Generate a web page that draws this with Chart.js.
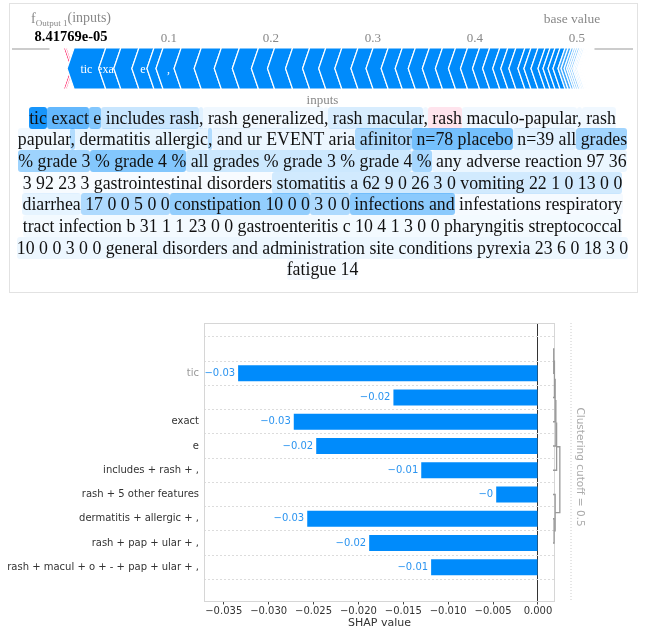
<!DOCTYPE html>
<html>
<head>
<meta charset="utf-8">
<script src="https://cdn.jsdelivr.net/npm/chart.js@4.4.1/dist/chart.umd.min.js"></script>
<style>
  body { margin: 0; background: #fff; width: 645px; height: 639px; overflow: hidden; position: relative; }
  #box { position: absolute; left: 9px; top: 3px; width: 629px; height: 290px; box-sizing: border-box; border: 1px solid #e2e2e2; }
  #force { position: absolute; left: 0; top: 0; }
  #inputs { position: absolute; left: 0; top: 91px; width: 645px; text-align: center; font: 13px "Liberation Serif", serif; color: #888; line-height: 18px; }
  #text { position: absolute; left: 0; top: 107.5px; width: 645px; font-family: "Liberation Serif", serif; font-size: 17.8px; color: #111; }
  #text .line { height: 21.7px; line-height: 21.7px; text-align: center; white-space: nowrap; }
  #text .tok { border-radius: 3px; padding: 1px 0; }
  #bars { position: absolute; left: 0; top: 300px; }
</style>
</head>
<body>
<div id="box"></div>
<canvas id="force" width="645" height="95"></canvas>
<div id="inputs">inputs</div>
<div id="text"></div>
<canvas id="bars" width="645" height="339"></canvas>
<script>
// ---- force plot values ----
const outputValue = 8.41769e-05;
const baseValue = 0.5;
const forceTicks = [0.1, 0.2, 0.3, 0.4, 0.5];
const forcePos = [0.0020, 0.0015];
const forceNeg = [
  0.0310, 0.0148, 0.0177, 0.0148, 0.0089, 0.0177, 0.0197, 0.0197, 0.0177, 0.0187,
  0.0158, 0.0177, 0.0167, 0.0158, 0.0158, 0.0158, 0.0148, 0.0148, 0.0138, 0.0128,
  0.0138, 0.0128, 0.0128, 0.0118, 0.0118, 0.0099, 0.0099, 0.0079, 0.0079, 0.0089,
  0.0059, 0.0069, 0.0069, 0.0049, 0.0049, 0.0049, 0.0049, 0.0030, 0.0030, 0.0025,
  0.0020, 0.0020, 0.0020, 0.0015, 0.0015, 0.0015, 0.0010, 0.0010, 0.0010, 0.0010
];
const forceNames = ["tic", "exact", "", "e", "", ","];

// ---- text highlight values ----
const textTokens = [
  ["tic", " exact", " e", " includes rash", ",", " rash generalized", ",", " rash macular", ",", " rash", " maculo-papular", ",", " rash"],
  ["papular", ",", " dermatitis allergic", ",", " and ur EVENT aria", " afinitor", " n=78 placebo", " n=39 all", " grades"],
  ["% grade 3", " % grade 4 %", " all grades % grade 3 % grade 4", " %", " any adverse reaction 97 36"],
  ["3 92 23 3 gastrointestinal disorders", " stomatitis a 62 9 0 26 3 0 vomiting 22 1 0 13 0 0"],
  ["diarrhea", " 17 0 0 5 0 0", " constipation 10 0 0", " 3 0 0", " infections and", " infestations respiratory"],
  ["tract infection b 31 1 1 23 0 0 gastroenteritis c 10 4 1 3 0 0 pharyngitis streptococcal"],
  ["10 0 0 3 0 0 general disorders and administration site conditions pyrexia 23 6 0 18 3 0"],
  ["fatigue 14"]
];
const textScores = [
  [-0.030, -0.020, -0.016, -0.007, -0.004, -0.002, -0.002, -0.005, -0.002, 0.0035, -0.002, -0.002, -0.002],
  [-0.002, -0.010, -0.003, -0.010, -0.0025, -0.011, -0.018, -0.004, -0.012],
  [-0.0125, -0.016, -0.0066, -0.0115, -0.0026],
  [-0.001, -0.006],
  [-0.0033, -0.0105, -0.014, -0.0105, -0.015, -0.0013],
  [-0.0016],
  [-0.0023],
  [-0.0013]
];
const textMax = 0.033;

// ---- bar chart values ----
const rowLabels = ["", "tic", "", "exact", "e", "includes + rash + ,", "rash + 5 other features",
  "dermatitis + allergic + ,", "rash + pap + ular + ,", "rash + macul + o + - + pap + ular + ,"];
const shapValues = [null, -0.0334, -0.0161, -0.0272, -0.0247, -0.0130, -0.00465, -0.0257, -0.0188, -0.0119];
const mutedRows = [1];
const xTicks = [-0.035, -0.030, -0.025, -0.020, -0.015, -0.010, -0.005, 0.000];
// merges: [left node, right node, distance]; new nodes get ids 10, 11, ...
const clusterMerges = [[0, 1, 0.02], [10, 2, 0.04], [11, 3, 0.06], [12, 4, 0.08], [13, 5, 0.10],
  [7, 8, 0.03], [6, 15, 0.06], [14, 16, 0.19]];
const clusterCutoff = 0.5;

// text plot
const textDiv = document.getElementById('text');
textTokens.forEach((line, li) => {
  const div = document.createElement('div');
  div.className = 'line';
  line.forEach((tok, ti) => {
    const s = textScores[li][ti];
    const a = Math.min(1, Math.abs(s) / textMax);
    const span = document.createElement('span');
    span.className = 'tok';
    span.textContent = tok;
    span.style.background = s < 0 ? `rgba(0,139,251,${a})` : `rgba(255,0,81,${a})`;
    div.appendChild(span);
  });
  textDiv.appendChild(div);
});

// 8.41769e-05 style, like python's %g
function sciText(v) {
  const [m, e] = v.toExponential(5).split('e');
  const n = Math.abs(parseInt(e, 10));
  return m + 'e' + (e[0] === '-' ? '-' : '+') + String(n).padStart(2, '0');
}

// force plot
function chevron(ctx, pts, fill) {
  ctx.beginPath();
  pts.forEach((p, i) => i ? ctx.lineTo(p[0], p[1]) : ctx.moveTo(p[0], p[1]));
  ctx.closePath();
  ctx.fillStyle = fill;
  ctx.fill();
  ctx.strokeStyle = '#fff';
  ctx.lineWidth = 1.2;
  ctx.stroke();
}

const forcePlugin = {
  id: 'forcePlot',
  afterDraw(chart) {
    const { ctx, chartArea: a, scales: { x } } = chart;
    const top = a.top, bot = a.bottom, mid = (top + bot) / 2, h = 7;
    const px = v => x.getPixelForValue(v);
    const sumPos = forcePos.reduce((s, v) => s + v, 0);
    const sumNeg = forceNeg.reduce((s, v) => s + v, 0);
    ctx.save();
    ctx.strokeStyle = '#ccc';
    ctx.lineWidth = 2;
    ctx.beginPath();
    ctx.moveTo(a.left, top + 1); ctx.lineTo(px(outputValue - sumPos) - 14, top + 1);
    ctx.moveTo(px(outputValue + sumNeg) + h + 6, top + 1); ctx.lineTo(a.right, top + 1);
    ctx.stroke();

    let start = outputValue - sumPos;
    forcePos.forEach(v => {
      const pa = px(start), pb = px(start + v);
      chevron(ctx, [[pa, top], [pb, top], [pb + h, mid], [pb, bot], [pa, bot], [pa + h, mid]], 'rgb(255,0,81)');
      start += v;
    });

    start = outputValue;
    forceNeg.forEach((v, i) => {
      const pa = px(start), pb = px(start + v);
      const pts = [[pa + h, top], [pb + h, top], [pb, mid], [pb + h, bot], [pa + h, bot], [pa, mid]];
      chevron(ctx, pts, `rgba(0,139,251,${Math.min(1, v / 0.004)})`);
      if (forceNames[i]) {
        ctx.save();
        ctx.beginPath();
        pts.forEach((p, k) => k ? ctx.lineTo(p[0], p[1]) : ctx.moveTo(p[0], p[1]));
        ctx.closePath();
        ctx.clip();
        ctx.fillStyle = '#fff';
        ctx.font = '12px "Liberation Serif"';
        ctx.textAlign = 'center';
        ctx.textBaseline = 'middle';
        ctx.fillText(forceNames[i], (pa + pb) / 2 + h / 2, mid + 1);
        ctx.restore();
      }
      start += v;
    });

    // labels
    const fx = px(outputValue);
    ctx.fillStyle = '#888';
    ctx.textAlign = 'left';
    ctx.textBaseline = 'alphabetic';
    let lx = fx - 36;
    ctx.font = '14px "Liberation Serif"';
    ctx.fillText('f', lx, 23); lx += ctx.measureText('f').width;
    ctx.font = '9px "Liberation Serif"';
    ctx.fillText('Output 1', lx, 26); lx += ctx.measureText('Output 1').width;
    ctx.font = '14px "Liberation Serif"';
    ctx.fillText('(inputs)', lx, 22);
    ctx.fillStyle = '#000';
    ctx.font = 'bold 14.5px "Liberation Serif"';
    ctx.textAlign = 'center';
    ctx.fillText(sciText(outputValue), fx + 4, 41);
    ctx.fillStyle = '#888';
    ctx.font = '13.5px "Liberation Serif"';
    ctx.fillText('base value', px(baseValue) - 5, 23);
    ctx.restore();
  }
};

new Chart(document.getElementById('force'), {
  type: 'scatter',
  data: { datasets: [{ data: [] }] },
  options: {
    responsive: false,
    animation: false,
    events: [],
    layout: { padding: { left: 12, right: 12, top: 0, bottom: 6 } },
    plugins: { legend: { display: false }, tooltip: { enabled: false } },
    scales: {
      x: {
        type: 'linear', position: 'top', min: -0.0539, max: 0.5549,
        afterBuildTicks: s => { s.ticks = forceTicks.map(v => ({ value: v })); },
        afterFit: s => { s.height = 48; },
        ticks: { font: { family: 'Liberation Serif', size: 13 }, color: '#888', padding: 2, maxRotation: 0,
          callback: v => v.toFixed(1) },
        grid: { display: false, drawTicks: false },
        border: { display: false }
      },
      y: { display: false, min: 0, max: 1 }
    }
  },
  plugins: [forcePlugin]
});

// bar chart
const barExtras = {
  id: 'barExtras',
  afterDraw(chart) {
    const { ctx, chartArea: a, scales: { y } } = chart;
    ctx.save();
    // frame
    ctx.strokeStyle = '#d6d6d6';
    ctx.lineWidth = 1;
    ctx.strokeRect(a.left + 0.5, a.top + 0.5, a.right - a.left - 1, a.bottom - a.top);
    // value labels
    ctx.font = '10px "DejaVu Sans"';
    ctx.fillStyle = '#2b94f0';
    ctx.textAlign = 'right';
    ctx.textBaseline = 'middle';
    chart.getDatasetMeta(0).data.forEach((el, i) => {
      const v = shapValues[i];
      if (v === null) return;
      const txt = (v < 0 ? '\u2212' : '') + String(Math.abs(Number(v.toFixed(2))));
      ctx.fillText(txt, el.x - 3, el.y);
    });
    // dendrogram
    const x0 = a.right - 2, k = 36;
    const nodes = rowLabels.map((_, i) => ({ y: y.getPixelForValue(i), d: 0 }));
    ctx.strokeStyle = '#999';
    ctx.lineWidth = 1.3;
    clusterMerges.forEach(([l, r, d]) => {
      const L = nodes[l], R = nodes[r];
      ctx.beginPath();
      ctx.moveTo(x0 + L.d * k, L.y);
      ctx.lineTo(x0 + d * k, L.y);
      ctx.lineTo(x0 + d * k, R.y);
      ctx.lineTo(x0 + R.d * k, R.y);
      ctx.stroke();
      nodes.push({ y: (L.y + R.y) / 2, d: d });
    });
    // cutoff
    const cx = x0 + clusterCutoff * k;
    ctx.strokeStyle = '#ccc';
    ctx.lineWidth = 1;
    ctx.setLineDash([1, 2]);
    ctx.beginPath();
    ctx.moveTo(cx, a.top); ctx.lineTo(cx, a.bottom);
    ctx.stroke();
    ctx.setLineDash([]);
    ctx.translate(cx + 9, (a.top + a.bottom) / 2 + 5);
    ctx.rotate(Math.PI / 2);
    ctx.fillStyle = '#aaa';
    ctx.font = '10.5px "DejaVu Sans"';
    ctx.textAlign = 'center';
    ctx.textBaseline = 'middle';
    ctx.fillText('Clustering cutoff = ' + clusterCutoff, 0, 0);
    ctx.restore();
  }
};

new Chart(document.getElementById('bars'), {
  type: 'bar',
  data: {
    datasets: [{
      data: shapValues.map((v, i) => ({ x: v, y: i })),
      backgroundColor: '#008bfb',
      borderWidth: 0,
      categoryPercentage: 1,
      barPercentage: 0.66
    }]
  },
  options: {
    indexAxis: 'y',
    responsive: false,
    animation: false,
    events: [],
    layout: { padding: { left: 0, right: 90, top: 23, bottom: 0 } },
    plugins: { legend: { display: false }, tooltip: { enabled: false } },
    scales: {
      x: {
        type: 'linear', min: -0.0372, max: 0.0019,
        afterBuildTicks: s => { s.ticks = xTicks.map(v => ({ value: v })); },
        afterFit: s => { s.height = 38; },
        ticks: {
          font: { family: 'DejaVu Sans', size: 10 }, color: '#333', padding: 1, maxRotation: 0,
          callback: v => (v < 0 ? '\u2212' : '') + Math.abs(v).toFixed(3)
        },
        grid: {
          color: c => (c.tick && c.tick.value === 0) ? '#333' : 'rgba(0,0,0,0)',
          tickColor: '#444', tickLength: 3.5, tickWidth: 1
        },
        border: { display: false },
        title: { display: true, text: 'SHAP value', color: '#333',
          font: { family: 'DejaVu Sans', size: 11 }, padding: { top: 0, bottom: 9 } }
      },
      y: {
        type: 'linear', min: -0.5, max: 9.82, reverse: true,
        afterBuildTicks: s => { s.ticks = rowLabels.map((_, i) => ({ value: i })); },
        afterFit: s => { s.width = 204; },
        ticks: {
          font: { family: 'DejaVu Sans', size: 10 }, padding: 5,
          color: c => mutedRows.includes(c.index) ? '#999' : '#333',
          callback: v => rowLabels[v]
        },
        grid: { color: '#dcdcdc', lineWidth: 1, drawTicks: false },
        border: { display: false, dash: [2, 2] }
      }
    }
  },
  plugins: [barExtras]
});
</script>
</body>
</html>
